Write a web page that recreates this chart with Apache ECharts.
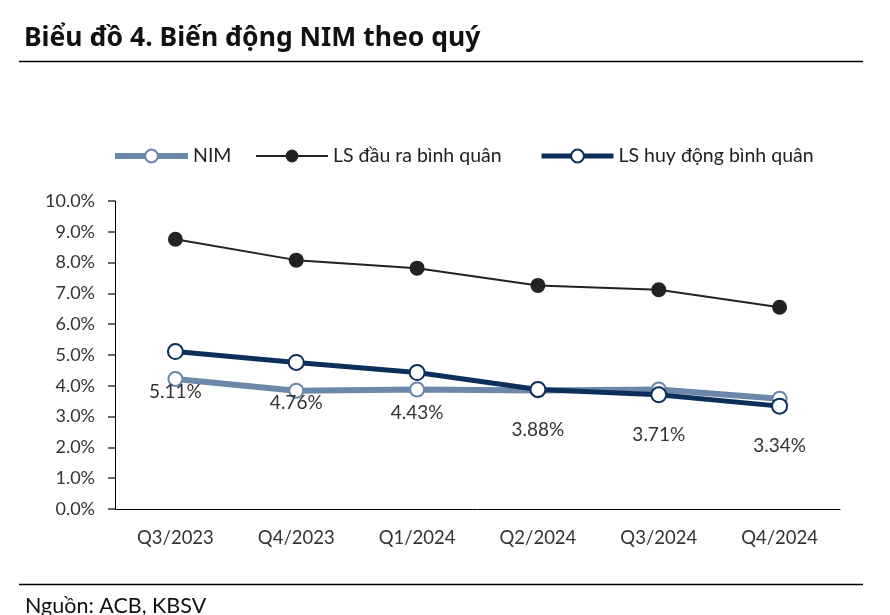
<!DOCTYPE html>
<html><head><meta charset="utf-8">
<script src="https://cdn.jsdelivr.net/npm/echarts@6/dist/echarts.min.js"></script>
<style>html,body{margin:0;padding:0;background:#fff}#c{width:890px;height:615px}</style>
</head><body><div id="c"></div>
<script>
const categories = ['Q3/2023','Q4/2023','Q1/2024','Q2/2024','Q3/2024','Q4/2024'];
const nim = [4.22, 3.84, 3.88, 3.85, 3.88, 3.58];
const lsDauRa = [8.76, 8.08, 7.82, 7.26, 7.12, 6.55];
const lsHuyDong = [5.11, 4.76, 4.43, 3.88, 3.71, 3.34];
const yTicks = [0,1,2,3,4,5,6,7,8,9,10];
const FONT = 'Lato, "Noto Sans", sans-serif';

const legendText = {fontFamily:FONT, fontSize:19.5, color:'#222'};
const chart = echarts.init(document.getElementById('c'));
chart.setOption({
  animation:false,
  textStyle:{fontFamily:FONT},
  title:[
    {text:'Biểu đồ 4. Biến động NIM theo quý', left:19, top:20, textStyle:{fontFamily:'"Noto Sans", Lato, sans-serif', fontSize:26.5, fontWeight:'bold', color:'#111'}},
    {text:'Nguồn: ACB, KBSV', left:20, top:590, textStyle:{fontFamily:FONT, fontSize:21.5, fontWeight:'normal', color:'#111'}}
  ],
  graphic:[
    {type:'line', shape:{x1:19,y1:61.5,x2:863,y2:61.5}, style:{stroke:'#000', lineWidth:1.3}},
    {type:'line', shape:{x1:19,y1:584.5,x2:863,y2:584.5}, style:{stroke:'#000', lineWidth:1.3}}
  ],
  legend:[
    {top:146, left:112, padding:0, itemWidth:73, itemHeight:16, itemGap:5, textStyle:legendText,
     lineStyle:{width:6}, data:['NIM']},
    {top:146, left:255, padding:0, itemWidth:72, itemHeight:16, itemGap:5, textStyle:legendText,
     lineStyle:{width:2}, data:['LS đầu ra bình quân']},
    {top:146, left:539, padding:0, itemWidth:72, itemHeight:16, itemGap:5, textStyle:legendText,
     lineStyle:{width:5}, data:['LS huy động bình quân']}
  ],
  grid:{left:115, right:50, top:201, bottom:106},
  xAxis:{
    type:'category', data:categories, boundaryGap:true,
    axisLine:{lineStyle:{color:'#000', width:1}},
    axisTick:{show:false},
    axisLabel:{fontFamily:FONT, fontSize:18.5, color:'#333', margin:20}
  },
  yAxis:{
    type:'value', min:0, max:10, interval:1,
    axisLine:{show:true, lineStyle:{color:'#000', width:1}},
    axisTick:{show:true, length:7, lineStyle:{color:'#666', width:2}},
    splitLine:{show:false},
    axisLabel:{fontFamily:FONT, fontSize:18, color:'#333', margin:20, formatter:v=>v.toFixed(1)+'%'}
  },
  series:[
    {name:'NIM', type:'line', data:nim, symbol:'emptyCircle', symbolSize:14, z:2,
     color:'#6b87a9', lineStyle:{width:6, color:'#6b87a9'}, itemStyle:{color:'#6b87a9', borderWidth:4, borderColor:'#6b87a9'}},
    {name:'LS đầu ra bình quân', type:'line', data:lsDauRa, symbol:'circle', symbolSize:15,
     color:'#222', lineStyle:{width:2, color:'#222'}, itemStyle:{color:'#222'}},
    {name:'LS huy động bình quân', type:'line', data:lsHuyDong, symbol:'emptyCircle', symbolSize:15, z:3,
     color:'#0b2f5a', lineStyle:{width:5, color:'#0b2f5a'}, itemStyle:{color:'#0b2f5a', borderWidth:4.5, borderColor:'#0b2f5a'},
     label:{show:true, position:'bottom', distance:22, fontFamily:FONT, fontSize:19, color:'#333', formatter:p=>p.value.toFixed(2)+'%'}}
  ]
});
</script></body></html>
